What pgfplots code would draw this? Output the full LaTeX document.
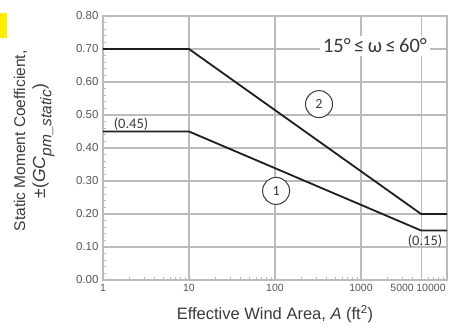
\documentclass[border=0pt]{standalone}
\usepackage{pgfplots}
\pgfplotsset{compat=1.18}
\usepackage{fontspec}
\setmainfont{Liberation Sans}
\newfontfamily\calib{Carlito}
\definecolor{tickc}{HTML}{555555}
\definecolor{labc}{HTML}{3A3A3A}
\definecolor{gridc}{HTML}{BBBBBB}
\definecolor{linec}{HTML}{1E1E1E}
\begin{document}
\begin{tikzpicture}
\path[use as bounding box] (0,0) rectangle (463pt,330pt);
\fill[yellow!95!orange] (0,292pt) rectangle (7pt,317pt);
\begin{axis}[
  at={(103pt,50pt)}, anchor=south west,
  scale only axis, width=344pt, height=264pt,
  xmode=log, xmin=1, xmax=10000, ymin=0, ymax=0.8,
  xtick={1,10,100,1000,5000,10000},
  xticklabels={1,10,100,1000,5000\hspace*{38pt},10000\hspace*{32pt}},
  minor xtick={2,3,...,9,20,30,...,90,200,300,...,900,2000,3000,...,9000},
  ytick={0,0.1,0.2,0.3,0.4,0.5,0.6,0.7,0.8},
  minor y tick num=4,
  /pgf/number format/assume math mode=true,
  yticklabel style={xshift=-1pt, font=\fontsize{11.5}{12}\selectfont, /pgf/number format/.cd, fixed, fixed zerofill, precision=2},
  ticklabel style={text=tickc},
  xticklabel style={yshift=-1pt, font=\fontsize{10.5}{12}\selectfont},
  grid=major, major grid style={gridc, line width=1.2pt},
  axis line style={gridc, line width=1.2pt},
  tick align=inside, xtick pos=bottom, ytick pos=left,
  major tick length=0pt, minor tick length=3.5pt,
  minor tick style={gridc, line width=0.7pt},
  xlabel={Effective Wind Area, \textit{A} (ft\textsuperscript{2})},
  xlabel style={at={(axis description cs:0.5,-0.13)}, anchor=center, font=\fontsize{16.5}{18}\selectfont, text=labc},
  ylabel={Static Moment Coefficient,\\ {\fontsize{17.5}{17}\selectfont ±(\textit{GC}}$_{\textit{pm\_static}}${\fontsize{17.5}{17}\selectfont)}},
  ylabel style={at={(axis description cs:-0.20,0.527)}, anchor=center, align=center, font=\fontsize{15.5}{20}\selectfont, text=labc},
]
\addplot[linec, line width=1.8pt] coordinates {(1,0.70) (10,0.70) (5000,0.20) (10000,0.20)};
\addplot[linec, line width=1.8pt] coordinates {(1,0.45) (10,0.45) (5000,0.15) (10000,0.15)};
\node[draw=labc, circle, line width=1pt, minimum size=27pt, inner sep=0pt, fill=white, text=labc, font=\calib\fontsize{14}{15}\selectfont] at (axis cs:325,0.533) {2};
\node[draw=labc, circle, line width=1pt, minimum size=27pt, inner sep=0pt, fill=white, text=labc, font=\calib\fontsize{14}{15}\selectfont] at (axis cs:103,0.27) {1};
\node[font=\calib\fontsize{14.5}{15}\selectfont, text=labc] at (axis cs:2.12,0.473) {(0.45)};
\node[font=\calib\fontsize{14.5}{15}\selectfont, text=labc] at (axis cs:5550,0.118) {(0.15)};
\node[fill=white, inner sep=3pt, font=\calib\fontsize{20.5}{22}\selectfont, text=labc] at (axis cs:1455,0.709) {15°\,≤\,ω\,≤\,60°};
\end{axis}
\end{tikzpicture}
\end{document}
